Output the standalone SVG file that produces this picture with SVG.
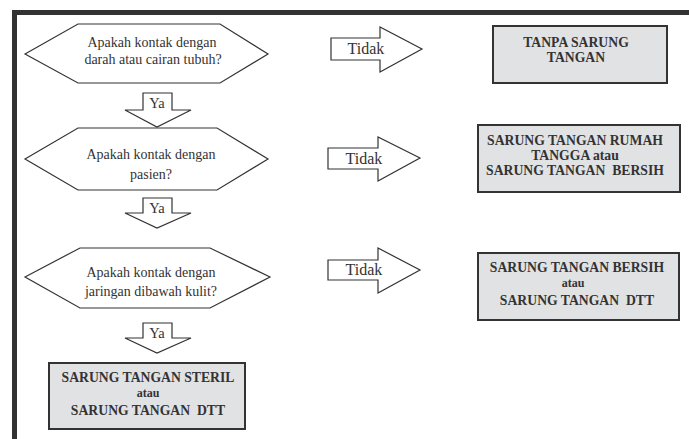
<svg xmlns="http://www.w3.org/2000/svg" width="689" height="439" viewBox="0 0 689 439">
<style>
.frame{stroke:#333;stroke-width:5;fill:none}
.hex{fill:#fff;stroke:#333;stroke-width:1.2}
.arr{fill:#fff;stroke:#333;stroke-width:1.2}
.box{fill:#e1e2e4;stroke:#333;stroke-width:2}
text{font-family:"Liberation Serif","Times New Roman","DejaVu Serif",serif;fill:#333;text-anchor:middle}
.q{font-size:14px}
.lbl{font-size:16px}
.ya{font-size:14.5px}
.b{font-size:13.7px;font-weight:bold;white-space:pre}
.s{font-size:12px}
</style>
<rect width="689" height="439" fill="#fff"/>
<path class="frame" d="M14.5,439 V12.5 H689"/>

<g id="connectors">
  <g id="ya1"><polygon class="arr" points="143,93 172,93 172,110 191,110 157,127 125,110 143,110"/><text class="ya" x="157" y="108">Ya</text></g>
  <g id="ya2"><polygon class="arr" points="143,198 172,198 172,213 191,213 157,228 125,213 143,213"/><text class="ya" x="157" y="213">Ya</text></g>
  <g id="ya3"><polygon class="arr" points="143,323 172,323 172,338 191,338 157,353 125,338 143,338"/><text class="ya" x="157" y="338">Ya</text></g>
  <g id="tidak1"><polygon class="arr" points="331,38 380,38 380,27 422,49 380,72 380,60 331,60"/><text class="lbl" x="366" y="54">Tidak</text></g>
  <g id="tidak2"><polygon class="arr" points="328,148 378,148 378,137 420,158 378,181 378,169 328,169"/><text class="lbl" x="364" y="164">Tidak</text></g>
  <g id="tidak3"><polygon class="arr" points="328,260 378,260 378,248 420,270 378,293 378,280 328,280"/><text class="lbl" x="364" y="275">Tidak</text></g>
</g>

<g id="q1">
  <polygon class="hex" points="25,54 78,24 220,24 268,54 220,83 78,83"/>
  <text class="q" x="152" y="47">Apakah kontak dengan</text>
  <text class="q" x="153" y="64">darah atau cairan tubuh?</text>
</g>
<g id="q2">
  <polygon class="hex" points="25,159 78,128 217,128 268,159 217,190 78,190"/>
  <text class="q" x="151" y="159">Apakah kontak dengan</text>
  <text class="q" x="151" y="179">pasien?</text>
</g>
<g id="q3">
  <polygon class="hex" points="25,277 80,248 210,248 270,277 210,308 80,308"/>
  <text class="q" x="151" y="277">Apakah kontak dengan</text>
  <text class="q" x="151" y="296">jaringan dibawah kulit?</text>
</g>

<g id="r1">
  <rect class="box" x="493" y="26" width="174" height="57"/>
  <text class="b" x="576" y="47">TANPA SARUNG</text>
  <text class="b" x="576" y="62">TANGAN</text>
</g>
<g id="r2">
  <rect class="box" x="478" y="125" width="202" height="67"/>
  <text class="b" x="575" y="145">SARUNG TANGAN RUMAH</text>
  <text class="b" x="575" y="160">TANGGA atau</text>
  <text class="b" x="575" y="175">SARUNG TANGAN  BERSIH</text>
</g>
<g id="r3">
  <rect class="box" x="478" y="253" width="201" height="67"/>
  <text class="b" x="577" y="272">SARUNG TANGAN BERSIH</text>
  <text class="b s" x="573" y="287">atau</text>
  <text class="b" x="577" y="305">SARUNG TANGAN  DTT</text>
</g>
<g id="r4">
  <rect class="box" x="49" y="363" width="196" height="66"/>
  <text class="b" x="148" y="382">SARUNG TANGAN STERIL</text>
  <text class="b s" x="148" y="397">atau</text>
  <text class="b" x="148" y="415">SARUNG TANGAN  DTT</text>
</g>
</svg>
